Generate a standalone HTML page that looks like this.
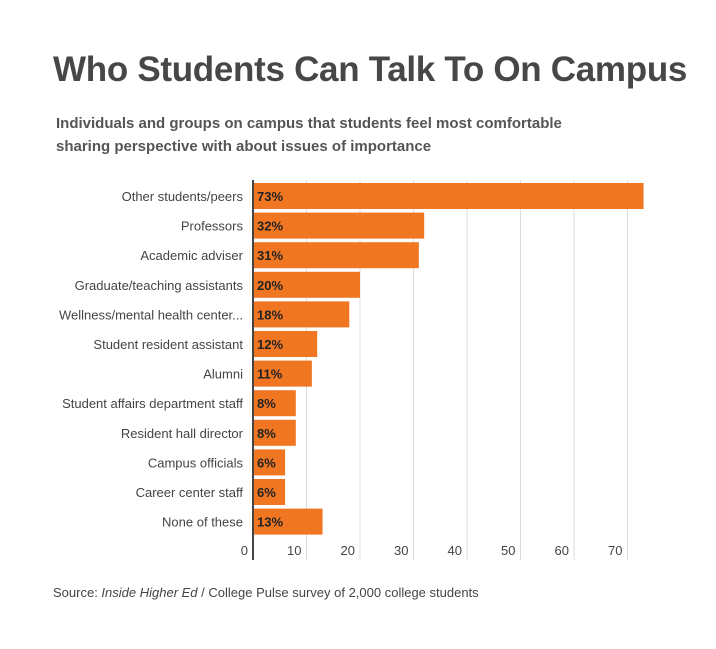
<!DOCTYPE html>
<html><head><meta charset="utf-8"><style>
body{margin:0;background:#fff;font-family:"Liberation Sans",sans-serif;}
#root{position:relative;width:716px;height:649px;overflow:hidden;}
h1{position:absolute;left:53px;top:50px;margin:0;font-size:35px;font-weight:bold;color:#474747;letter-spacing:-0.3px;}
.sub{position:absolute;left:56px;top:112px;width:560px;font-size:15px;font-weight:bold;color:#555;line-height:23px;}
.src{position:absolute;left:53px;top:585px;font-size:13px;color:#444;}
</style></head><body><div id="root">
<h1>Who Students Can Talk To On Campus</h1>
<div class="sub">Individuals and groups on campus that students feel most comfortable sharing perspective with about issues of importance</div>
<svg id="plot" width="716" height="649" style="position:absolute;left:0;top:0"></svg>
<div class="src">Source: <i>Inside Higher Ed</i> / College Pulse survey of 2,000 college students</div>
</div>
<script>
const categories=["Other students/peers","Professors","Academic adviser","Graduate/teaching assistants","Wellness/mental health center...","Student resident assistant","Alumni","Student affairs department staff","Resident hall director","Campus officials","Career center staff","None of these"];
const values=[73,32,31,20,18,12,11,8,8,6,6,13];
const ticks=[0,10,20,30,40,50,60,70];
const NS="http://www.w3.org/2000/svg";
const svg=document.getElementById('plot');
const x0=253,ppu=5.35,top0=183,pitch=29.6,bh=26;
const xs=v=>x0+v*ppu;
const ys=i=>top0+i*pitch;
function mk(t,a){const e=document.createElementNS(NS,t);for(const k in a)e.setAttribute(k,a[k]);svg.appendChild(e);return e;}
ticks.forEach(t=>{
  if(t>0){const g=mk('line',{x1:xs(t),x2:xs(t),y1:180,y2:560,stroke:'#ddd','stroke-width':1});
  
  }
  const l=mk('text',{x:xs(t)-5,y:555,'text-anchor':'end','font-size':13,fill:'#444','font-family':'Liberation Sans, sans-serif'});
  l.textContent=t;
  
  
});
categories.forEach((c,i)=>{
  const y=ys(i);
  const r=mk('rect',{x:x0,y:y,width:xs(values[i])-x0,height:bh,fill:'#f07622'});
  
  
  const v=mk('text',{x:x0+4,y:y+bh/2+5,'font-size':13,'font-weight':'bold',fill:'#222','font-family':'Liberation Sans, sans-serif'});
  v.textContent=values[i]+'%';
  
  
  const l=mk('text',{x:243,y:y+bh/2+5,'text-anchor':'end','font-size':13,fill:'#444','font-family':'Liberation Sans, sans-serif'});
  l.textContent=c;
  
  
});
const ax=mk('line',{x1:x0,x2:x0,y1:180,y2:560,stroke:'#444','stroke-width':2});


</script></body></html>
